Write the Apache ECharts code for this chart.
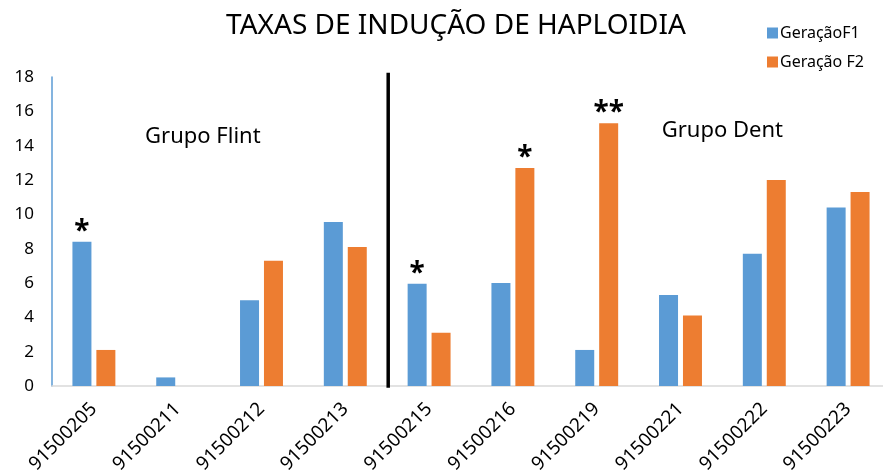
<!DOCTYPE html>
<html lang="pt">
<head>
    <meta charset="UTF-8">
    <title>Taxas de indução de haploidia</title>
    <style>
        html, body { margin: 0; padding: 0; background: white; }
        #fig { width: 883px; height: 473px; }
    </style>
    <script src="https://cdn.jsdelivr.net/npm/echarts@6/dist/echarts.min.js"></script>
</head>
<body>
<div id="fig"></div>
<script>
    // dados
    const categorias = ['91500205', '91500211', '91500212', '91500213', '91500215',
        '91500216', '91500219', '91500221', '91500222', '91500223'];
    const geracaoF1 = [8.4, 0.5, 5.0, 9.55, 5.95, 6.0, 2.1, 5.3, 7.7, 10.4];
    const geracaoF2 = [2.1, 0, 7.3, 8.1, 3.1, 12.7, 15.3, 4.1, 12.0, 11.3];
    // asteriscos de significância por barra
    const estrelasF1 = ['*', '', '', '', '*', '', '', '', '', ''];
    const estrelasF2 = ['', '', '', '', '', '*', '**', '', '', ''];
    const yTicks = [0, 2, 4, 6, 8, 10, 12, 14, 16, 18];
    // fronteira entre grupo Flint e Dent: entre a 4a e a 5a categoria
    const divisao = [3, 4];
    const grupos = [
        {nome: 'Grupo Flint', x: 1.8, y: 14.5},
        {nome: 'Grupo Dent', x: 8.0, y: 14.85}
    ];

    const fonte = '"Noto Sans", sans-serif';

    function comEstrelas(valores, estrelas) {
        return valores.map((v, i) => ({
            value: v,
            label: {
                show: estrelas[i] !== '',
                formatter: estrelas[i],
                position: 'top',
                distance: -4,
                fontSize: 28,
                fontWeight: 'bold',
                color: '#000',
                fontFamily: fonte
            }
        }));
    }

    const fig = echarts.init(document.getElementById('fig'), null, {renderer: 'canvas'});
    const option = {
        animation: false,
        backgroundColor: '#fff',
        textStyle: {fontFamily: fonte},
        title: {
            text: 'TAXAS DE INDUÇÃO DE HAPLOIDIA',
            left: 451,
            textAlign: 'center',
            top: 7,
            textStyle: {fontSize: 28, fontWeight: 'normal', color: '#000', fontFamily: fonte}
        },
        legend: {
            orient: 'vertical',
            left: 762,
            top: 20,
            itemWidth: 11,
            itemHeight: 11,
            itemGap: 13,
            icon: 'rect',
            textStyle: {fontSize: 16, color: '#000', fontFamily: fonte, padding: [0, 0, 0, -3]},
            data: ['GeraçãoF1', 'Geração F2']
        },
        grid: {left: 52, right: -7, top: 77, bottom: 87, containLabel: false, outerBoundsMode: 'none'},
        xAxis: {
            type: 'category',
            data: categorias,
            axisLine: {lineStyle: {color: '#d9d9d9', width: 1.5}},
            axisTick: {show: false},
            axisLabel: {rotate: 45, fontSize: 19, color: '#000', margin: 20, interval: 0, fontFamily: fonte}
        },
        yAxis: {
            type: 'value',
            min: yTicks[0],
            max: yTicks[yTicks.length - 1],
            interval: 2,
            splitLine: {show: false},
            axisLine: {show: true, lineStyle: {color: '#5b9bd5', width: 1.5}},
            axisTick: {show: false},
            axisLabel: {fontSize: 17, color: '#000', margin: 18, fontFamily: fonte}
        },
        series: [{
            name: 'GeraçãoF1',
            type: 'bar',
            data: comEstrelas(geracaoF1, estrelasF1),
            itemStyle: {color: '#5b9bd5'},
            barWidth: 19,
            barGap: '26%'
        }, {
            name: 'Geração F2',
            type: 'bar',
            data: comEstrelas(geracaoF2, estrelasF2),
            itemStyle: {color: '#ed7d31'},
            barWidth: 19,
            barGap: '26%'
        }]
    };
    fig.setOption(option);

    // linha divisória e nomes dos grupos, posicionados pelas escalas do gráfico
    const passo = fig.convertToPixel({xAxisIndex: 0}, categorias[1]) - fig.convertToPixel({xAxisIndex: 0}, categorias[0]);
    const xCat = (c) => fig.convertToPixel({xAxisIndex: 0}, categorias[0]) + c * passo;
    const yVal = (v) => fig.convertToPixel({yAxisIndex: 0}, v);
    const xDiv = (xCat(divisao[0]) + xCat(divisao[1])) / 2 + 1;
    const graficos = [{
        type: 'line',
        shape: {x1: xDiv, y1: yVal(-0.1), x2: xDiv, y2: yVal(18.25)},
        style: {stroke: '#000', lineWidth: 3.5},
        silent: true,
        z: 10
    }].concat(grupos.map(g => ({
        type: 'text',
        x: xCat(g.x - 0.5),
        y: yVal(g.y),
        style: {
            text: g.nome, fill: '#000', fontSize: 22, fontFamily: fonte,
            align: 'center', verticalAlign: 'middle'
        },
        silent: true,
        z: 10
    })));
    fig.setOption({graphic: graficos});
</script>
</body>
</html>
